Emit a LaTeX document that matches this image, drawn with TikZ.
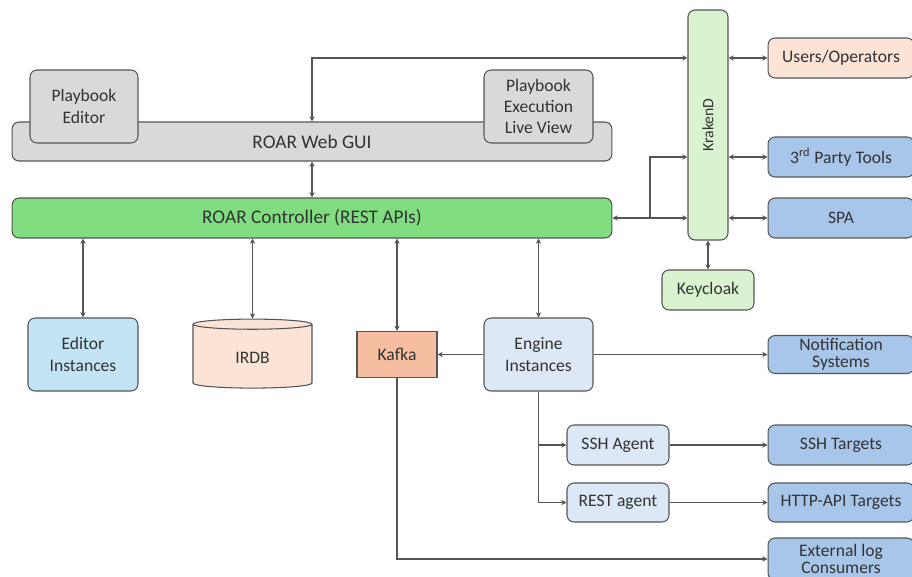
\documentclass[tikz,border=0pt]{standalone}
\usepackage{fontspec}
\setmainfont{Carlito}
\usepackage{tikz}
\usetikzlibrary{arrows.meta,shapes.geometric}

\definecolor{linegray}{RGB}{85,85,85}
\definecolor{guigray}{RGB}{217,217,217}
\definecolor{ctrlgreen}{RGB}{128,222,128}
\definecolor{palegreen}{RGB}{217,242,208}
\definecolor{peach}{RGB}{251,227,214}
\definecolor{salmon}{RGB}{245,190,160}
\definecolor{extblue}{RGB}{168,198,234}
\definecolor{skyblue}{RGB}{194,228,245}
\definecolor{iceblue}{RGB}{220,232,245}

\begin{document}
\begin{tikzpicture}[x=0.02cm,y=-0.02cm,>={Stealth[length=3pt,width=3pt]},line width=0.6pt,
  box/.style={draw=linegray,rounded corners=4pt,align=center,text=black!80,
    font=\fontsize{10}{12}\selectfont,inner sep=1pt},
  bar/.style={box,font=\fontsize{11}{13}\selectfont,minimum width=12cm},
  ext/.style={box,fill=extblue,minimum width=2.92cm,minimum height=0.8cm},
  link/.style={draw=linegray}]

  \useasboundingbox (0,0) rectangle (912,577);

  \node[bar,fill=guigray,minimum height=0.78cm]  (gui)  at (312,141.5) {ROAR Web GUI};
  \node[box,fill=guigray,minimum width=2.16cm,minimum height=1.46cm] (pbeditor) at (84,106.5) {Playbook\\Editor};
  \node[box,fill=guigray,minimum width=2.18cm,minimum height=1.46cm] (pbview)   at (538.5,106.5) {Playbook\\Execution\\Live View};
  \node[bar,fill=ctrlgreen,minimum height=0.8cm] (ctrl) at (312,218) {ROAR Controller (REST APIs)};

  \node[box,fill=palegreen,minimum width=0.8cm,minimum height=4.6cm] (kraken) at (708,125) {};
  \node[rotate=90,font=\fontsize{9}{11}\selectfont,text=black!80] (krakenlbl) at (kraken.center) {KrakenD};
  \node[box,fill=palegreen,minimum width=1.84cm,minimum height=0.8cm] (keycloak) at (708,290) {Keycloak};

  \node[box,fill=peach,minimum width=2.92cm,minimum height=0.8cm] (users) at (841,58) {Users/Operators};
  \node[ext] (tools) at (841,157) {3\textsuperscript{rd} Party Tools};
  \node[ext] (spa)   at (841,218) {SPA};

  \node[box,fill=skyblue,minimum width=2.2cm,minimum height=1.46cm] (editor) at (83,354.5) {Editor\\Instances};
  \node[cylinder,shape border rotate=90,aspect=0.22,draw=linegray,fill=peach,
        minimum width=2.38cm,minimum height=1.38cm,text=black!80,
        font=\fontsize{10}{12}\selectfont] (irdb) at (252.5,357.5) {IRDB};
  \node[box,rounded corners=0pt,fill=salmon,minimum width=1.6cm,minimum height=0.92cm] (kafka) at (397,354.5) {Kafka};
  \node[box,fill=iceblue,minimum width=2.18cm,minimum height=1.46cm] (engine) at (538.5,354.5) {Engine\\Instances};
  \node[ext,minimum height=0.76cm,font=\fontsize{10}{10}\selectfont] (notif) at (841,354.5) {Notification\\Systems};

  \node[box,fill=iceblue,minimum width=2.04cm,minimum height=0.8cm] (sshagent)  at (618,445) {SSH Agent};
  \node[box,fill=iceblue,minimum width=2.04cm,minimum height=0.78cm] (restagent) at (618,502.5) {REST agent};
  \node[ext] (sshtgt)  at (841,445) {SSH Targets};
  \node[ext,minimum height=0.78cm] (httptgt) at (841,502.5) {HTTP-API Targets};
  \node[ext,minimum height=0.84cm,font=\fontsize{10}{10}\selectfont] (extlog) at (841,559) {External log\\Consumers};

  \coordinate (split) at (650,218);

  % gateway side
  \draw[link,<->] (gui.north) |- (kraken.west |- users);
  \path[link] (gui.south) edge[<->] (ctrl.north)
        (kraken.east |- users) edge[<->] (users.west)
        (kraken.east |- tools) edge[<->] (tools.west)
        (kraken.east |- spa)   edge[<->] (spa.west)
        (ctrl.east) edge[<->] (kraken.west |- ctrl)
        (kraken.south) edge[<->] (keycloak.north);
  \draw[link,->] (split) |- (kraken.west |- tools);

  % controller to backends
  \path[link] (editor.north |- ctrl.south) edge[<->] (editor.north)
        (irdb.north |- ctrl.south)   edge[<->] (irdb.north)
        (kafka.north |- ctrl.south)  edge[<->] (kafka.north)
        (engine.north |- ctrl.south) edge[<->] (engine.north)
        (engine.west) edge[->] (kafka.east)
        (engine.east) edge[->] (notif.west)
        (sshagent.east)  edge[->] (sshtgt.west)
        (restagent.east) edge[->] (httptgt.west);
  \draw[link,->] (engine.south) |- (sshagent.west);
  \draw[link,->] (engine.south) |- (restagent.west);
  \draw[link,->] (kafka.south) |- (extlog.west);
\end{tikzpicture}
\end{document}
